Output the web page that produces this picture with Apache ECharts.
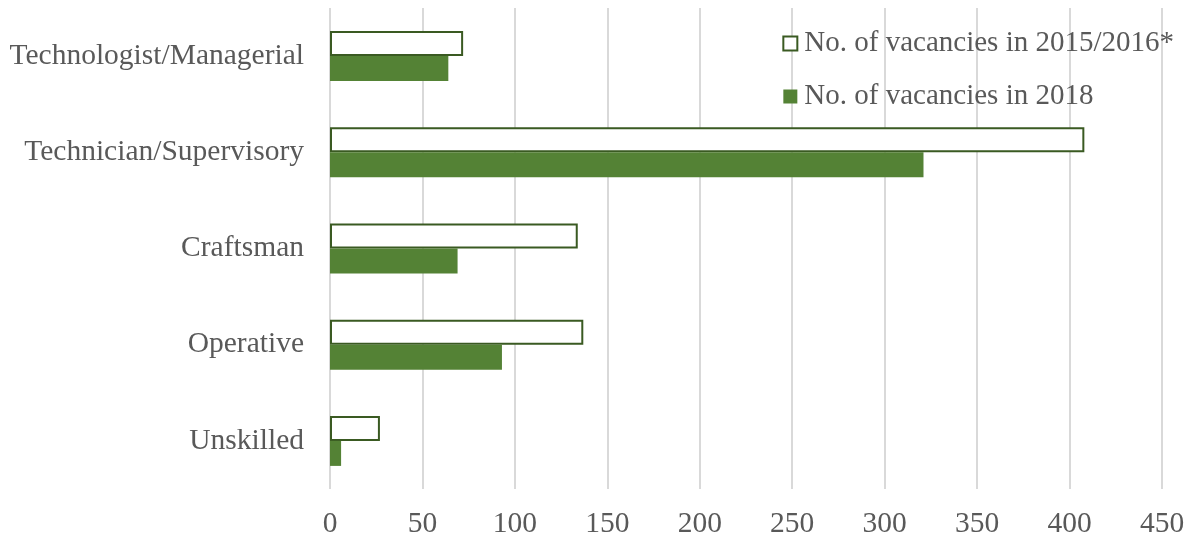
<!DOCTYPE html>
<html>
<head>
<meta charset="utf-8">
<script src="https://cdn.jsdelivr.net/npm/echarts@6/dist/echarts.min.js"></script>
<style>
  html, body { margin: 0; padding: 0; background: #fff; }
  #chart { width: 1192px; height: 539px; }
</style>
</head>
<body>
<div id="chart"></div>
<script>
// Skill levels, top to bottom
const categories = ['Technologist/Managerial', 'Technician/Supervisory', 'Craftsman', 'Operative', 'Unskilled'];
const vacancies2015 = [72, 408, 134, 137, 27];
const vacancies2018 = [64, 321, 69, 93, 6];
const seriesNames = ['No. of vacancies in 2015/2016*', 'No. of vacancies in 2018'];
const xTicks = { min: 0, max: 450, interval: 50 };

const font = 'Liberation Serif, Times New Roman, serif';
const textColor = '#595959';
const green = '#548235';
const darkGreen = '#3a5a22';

const chart = echarts.init(document.getElementById('chart'));
chart.setOption({
  animation: false,
  grid: { left: 330, right: 30, top: 8, bottom: 50, containLabel: false },
  legend: {
    orient: 'vertical',
    right: 13,
    top: 24,
    itemGap: 24,
    itemWidth: 14,
    itemHeight: 14,
    icon: 'rect',
    textStyle: { fontFamily: font, fontSize: 29, color: textColor, padding: [0, 0, 0, 2] },
    data: [
      { name: seriesNames[0], itemStyle: { color: '#fff', borderColor: darkGreen, borderWidth: 2 } },
      { name: seriesNames[1], itemStyle: { color: green } }
    ]
  },
  xAxis: {
    type: 'value',
    min: xTicks.min,
    max: xTicks.max,
    interval: xTicks.interval,
    axisLine: { show: false },
    axisTick: { show: false },
    axisLabel: { fontFamily: font, fontSize: 29.5, color: textColor, margin: 20 },
    splitLine: { lineStyle: { color: '#d9d9d9', width: 2 } }
  },
  yAxis: {
    type: 'category',
    data: categories,
    inverse: true,
    axisLine: { show: false },
    axisTick: { show: false },
    axisLabel: { fontFamily: font, fontSize: 29.5, color: textColor, margin: 26 },
    splitLine: { show: false }
  },
  series: [
    {
      name: seriesNames[0],
      type: 'bar',
      data: vacancies2015,
      barWidth: 25,
      barGap: '0%',
      itemStyle: { color: '#fff', borderColor: darkGreen, borderWidth: 2 }
    },
    {
      name: seriesNames[1],
      type: 'bar',
      data: vacancies2018,
      barWidth: 25,
      barGap: '0%',
      itemStyle: { color: green }
    }
  ]
});
</script>
</body>
</html>
